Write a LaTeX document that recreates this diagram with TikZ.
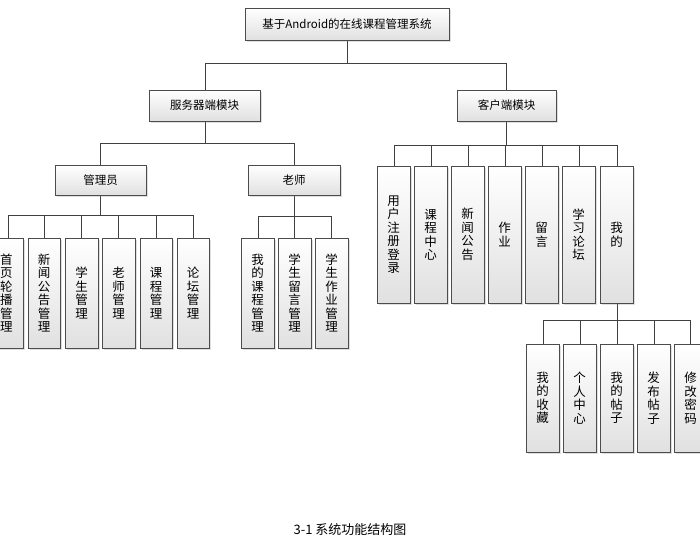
\documentclass[tikz,border=0pt]{standalone}
\usepackage{fontspec}
\setmainfont{Noto Sans CJK SC}
\usetikzlibrary{shadows}
\tikzset{
 box/.style={draw=black!70,line width=0.8pt,top color=white,bottom color=black!12,drop shadow={opacity=0.25,shadow xshift=1.5pt,shadow yshift=-1.5pt},font=\fontsize{11.5}{13}\selectfont,inner sep=0pt},
 wire/.style={draw=black!75,line width=0.7pt},
 vt/.style={box,align=center,font=\fontsize{12.5}{13.5}\selectfont}
}
\newcommand\hb[6]{\node[box,minimum width=#4-#3 pt,minimum height=#6-#5 pt] (#1) at ({(#3+#4)/2},{(#5+#6)/2}) {#2};}
\newcommand\vb[6]{\node[vt,minimum width=#4-#3 pt,minimum height=#6-#5 pt] (#1) at ({(#3+#4)/2},{(#5+#6)/2}) {#2};}
\begin{document}
\begin{tikzpicture}[x=1pt,y=-1pt]
\fill[white] (0,0) rectangle (700,558);
\useasboundingbox (0,0) rectangle (700,558);
\clip (0,0) rectangle (700,558);
% wires
\draw[wire] (347,40)--(347,63) (205,63)--(506,63) (205,63)--(205,90) (506,63)--(506,90);
\draw[wire] (205,121)--(205,143) (100,143)--(294,143) (100,143)--(100,165) (294,143)--(294,165);
\draw[wire] (506,121)--(506,145) (394,145)--(617,145);
\foreach \x in {394,431,468,505,542,579,617}{\draw[wire] (\x,145)--(\x,166);}
\draw[wire] (100,195)--(100,215) (8,215)--(193,215);
\foreach \x in {8,44,81,118,156,193}{\draw[wire] (\x,215)--(\x,238);}
\draw[wire] (294,195)--(294,216) (258,216)--(331,216);
\foreach \x in {258,294,331}{\draw[wire] (\x,216)--(\x,238);}
\draw[wire] (617,303)--(617,320) (543,320)--(690,320);
\foreach \x in {543,580,617,654,690}{\draw[wire] (\x,320)--(\x,344);}
% boxes
\hb{root}{基于Android的在线课程管理系统}{245}{449}{8}{40}
\hb{srv}{服务器端模块}{149}{260}{90}{121}
\hb{cli}{客户端模块}{457}{556}{90}{121}
\hb{adm}{管理员}{55}{146}{165}{195}
\hb{tea}{老师}{248}{340}{165}{195}
\vb{a1}{首\\页\\轮\\播\\管\\理}{-10}{23}{238}{348}
\vb{a2}{新\\闻\\公\\告\\管\\理}{28}{60}{238}{348}
\vb{a3}{学\\生\\管\\理}{65}{98}{238}{348}
\vb{a4}{老\\师\\管\\理}{102}{135}{238}{348}
\vb{a5}{课\\程\\管\\理}{140}{172}{238}{348}
\vb{a6}{论\\坛\\管\\理}{177}{209}{238}{348}
\vb{t1}{我\\的\\课\\程\\管\\理}{241}{274}{238}{348}
\vb{t2}{学\\生\\留\\言\\管\\理}{278}{311}{238}{348}
\vb{t3}{学\\生\\作\\业\\管\\理}{315}{348}{238}{348}
\vb{c1}{用\\户\\注\\册\\登\\录}{377}{410}{166}{303}
\vb{c2}{课\\程\\中\\心}{414}{447}{166}{303}
\vb{c3}{新\\闻\\公\\告}{451}{484}{166}{303}
\vb{c4}{作\\业}{488}{521}{166}{303}
\vb{c5}{留\\言}{525}{558}{166}{303}
\vb{c6}{学\\习\\论\\坛}{562}{595}{166}{303}
\vb{c7}{我\\的}{600}{633}{166}{303}
\vb{m1}{我\\的\\收\\藏}{526}{559}{344}{452}
\vb{m2}{个\\人\\中\\心}{563}{596}{344}{452}
\vb{m3}{我\\的\\帖\\子}{600}{633}{344}{452}
\vb{m4}{发\\布\\帖\\子}{637}{670}{344}{452}
\vb{m5}{修\\改\\密\\码}{674}{707}{344}{452}
\node[font=\fontsize{13}{15}\selectfont] (cap) at (350,530) {3-1\ 系统功能结构图};
\end{tikzpicture}
\end{document}
